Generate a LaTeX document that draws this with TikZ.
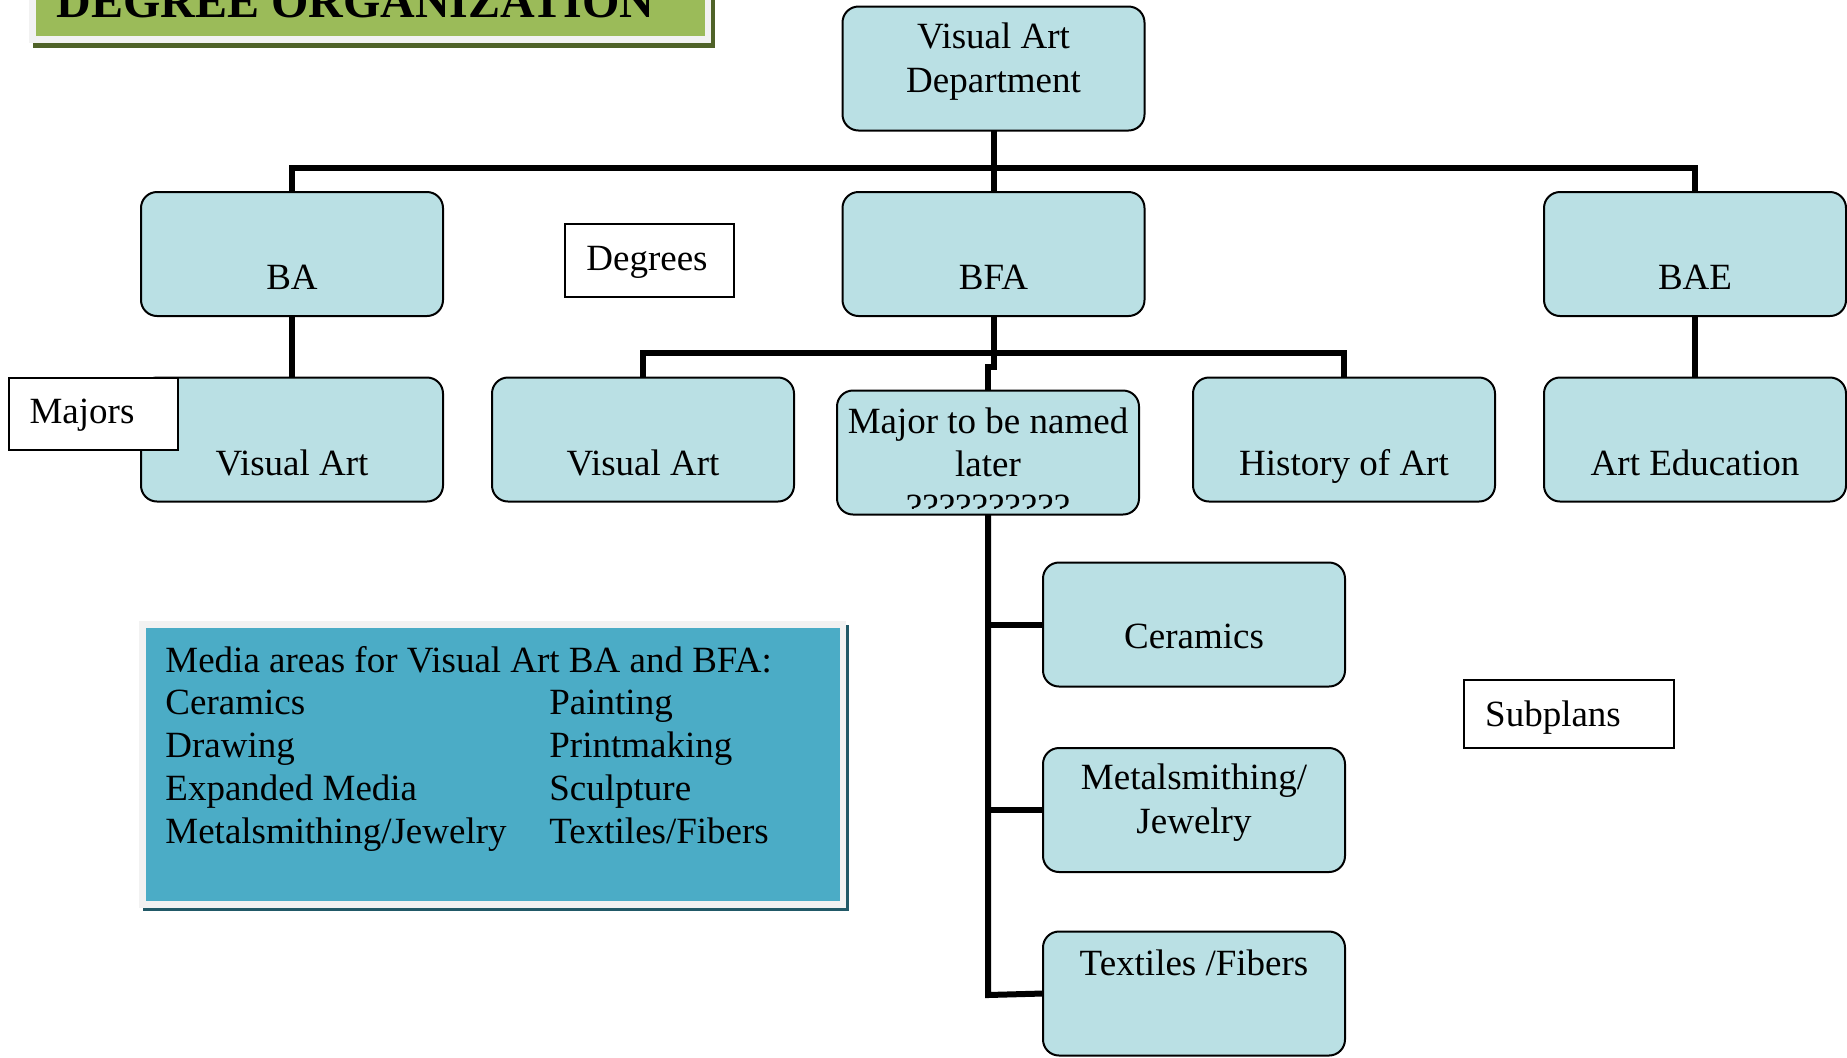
\documentclass[tikz,border=0pt]{standalone}
\usepackage{fontspec}
\setmainfont{Liberation Serif}
\usetikzlibrary{positioning}
\definecolor{nodefill}{RGB}{186,224,228}
\definecolor{mediablue}{RGB}{75,172,198}
\definecolor{framegray}{RGB}{242,242,242}
\definecolor{mediashadow}{RGB}{33,89,103}
\definecolor{titlegreen}{RGB}{155,187,89}
\definecolor{titleshadow}{RGB}{79,98,40}
\tikzset{
  box/.style={draw=black, line width=1pt, fill=nodefill, rounded corners=8pt,
    inner sep=0pt, outer sep=0pt, minimum width=151pt, minimum height=62pt},
  plainbox/.style={draw=black, line width=1pt, fill=white, inner sep=0pt, outer sep=0pt},
  txt/.style={inner sep=0pt, outer sep=0pt, align=center, font=\fontsize{18.5}{22}\selectfont},
  conn/.style={draw=black, line width=3pt},
}
\begin{document}
\begin{tikzpicture}[x=0.5pt,y=-0.5pt]
\clip (0,0) rectangle (1847,1057);
\useasboundingbox (0,0) rectangle (1847,1057);
\fill[white] (0,0) rectangle (1847,1057);

% title banner
\fill[titleshadow] (33,-10) rectangle (715,48);
\fill[framegray] (29,-10) rectangle (711,43);
\fill[titlegreen] (36,-10) rectangle (705,36);
\node[anchor=base west, inner sep=0pt, font=\fontsize{24}{28}\selectfont\bfseries] (title) at (56,17) {DEGREE ORGANIZATION};

% boxes
\node[box] (dept) at (993.5,68.5) {};
\node[box] (ba) at (292,254) {};
\node[box] (bfa) at (993.5,254) {};
\node[box] (bae) at (1695,254) {};
\node[box] (bava) at (292,439.5) {};
\node[box] (bfava) at (643,439.5) {};
\node[box] (major) at (988,452.5) {};
\node[box] (hist) at (1344,439.5) {};
\node[box] (arted) at (1695,439.5) {};
\node[box] (cer) at (1194,624.5) {};
\node[box] (metal) at (1194,810) {};
\node[box] (textil) at (1194,993.5) {};

% connectors
\coordinate (j1) at (993.5,168);
\coordinate (j2) at (993.5,353);
\coordinate (j3) at (988,995);
\draw[conn] (dept.south) -- (bfa.north);
\draw[conn] (ba.north) |- (j1) -| (bae.north);
\draw[conn] (ba.south) -- (bava.north);
\draw[conn] (bae.south) -- (arted.north);
\draw[conn] (bfa.south) -- (j2);
\draw[conn] (bfava.north) |- (j2) -| (hist.north);
\draw[conn] (major.north) -- ++(0,-24) -| (j2);
\draw[conn] (major.south) -- (j3) -- (textil.west);
\draw[conn] (major.south |- cer.west) -- (cer.west);
\draw[conn] (major.south |- metal.west) -- (metal.west);

% box texts (base anchor = baseline of last line)
\node[txt, anchor=base] (dept-t) at (993.5,92) {Visual Art\\Department};
\node[txt, anchor=base] (ba-t) at (292,289) {BA};
\node[txt, anchor=base] (bfa-t) at (993.5,289) {BFA};
\node[txt, anchor=base] (bae-t) at (1695,289) {BAE};
\node[txt, anchor=base] (bava-t) at (292,475) {Visual Art};
\node[txt, anchor=base] (bfava-t) at (643,475) {Visual Art};
\node[txt, anchor=base] (hist-t) at (1344,475) {History of Art};
\node[txt, anchor=base] (arted-t) at (1695,475) {Art Education};
\begin{scope}
\clip[rounded corners=8pt] (839,392) rectangle (1137,508);
\node[txt, anchor=base, font=\fontsize{18.5}{21.5}\selectfont] (major-t) at (988,519) {Major to be named\\later\\??????????};
\end{scope}
\node[txt, anchor=base] (cer-t) at (1194,648) {Ceramics};
\node[txt, anchor=base] (metal-t) at (1194,833) {Metalsmithing/\\Jewelry};
\node[txt, anchor=base] (textil-t) at (1194,975) {Textiles /Fibers};

% label boxes
\node[plainbox, minimum width=84.5pt, minimum height=36pt] (majors) at (93.5,414) {};
\node[txt, anchor=base] (majors-t) at (82,423) {Majors};
\node[plainbox, minimum width=84.5pt, minimum height=36.5pt] (degrees) at (649.5,260.5) {};
\node[txt, anchor=base] (degrees-t) at (647,270) {Degrees};
\node[plainbox, minimum width=105pt, minimum height=34pt] (subplans) at (1569,714) {};
\node[txt, anchor=base] (subplans-t) at (1553,726) {Subplans};

% media box
\fill[mediashadow] (143,625) rectangle (849,911);
\fill[framegray] (139,621) rectangle (846,908);
\fill[mediablue] (146,628) rectangle (840,901);
\node[inner sep=0pt, anchor=base west, font=\fontsize{18.5}{21.4}\selectfont] (media) at (165,672)
{\begin{tabular}[t]{@{}p{192pt}@{}l@{}}
\multicolumn{2}{@{}l@{}}{Media areas for Visual Art BA and BFA:}\\
Ceramics & Painting\\
Drawing & Printmaking\\
Expanded Media & Sculpture\\
Metalsmithing/Jewelry & Textiles/Fibers
\end{tabular}};
\end{tikzpicture}
\end{document}
